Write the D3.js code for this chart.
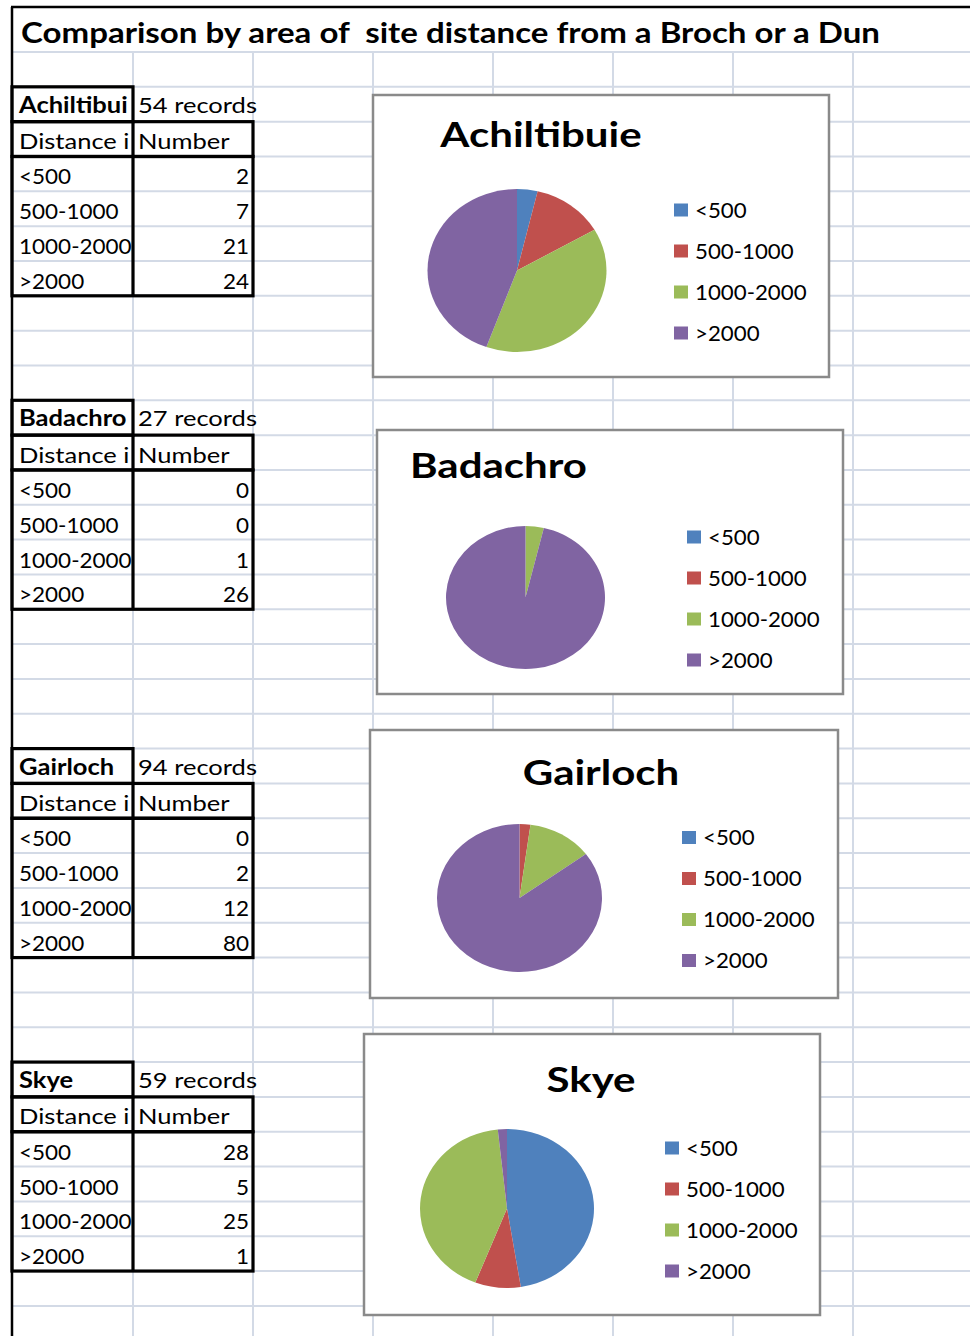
<!DOCTYPE html>
<html>
<head>
<meta charset="utf-8">
<script src="https://cdn.jsdelivr.net/npm/d3@7"></script>
<style>
  html, body { margin: 0; padding: 0; background: #ffffff; }
  svg { display: block; font-family: Lato, "Open Sans", sans-serif; }
  text { white-space: pre; }
</style>
</head>
<body>
<svg id="sheet" width="970" height="1336"></svg>
<script>
// ---- data ----------------------------------------------------------
const pageTitle = "Comparison by area of  site distance from a Broch or a Dun";
const areaNames = ["Achiltibuie", "Badachro", "Gairloch", "Skye"];
const tableNames = ["Achiltibui", "Badachro", "Gairloch", "Skye"];
const recordCounts = [54, 27, 94, 59];
const distanceBands = ["<500", "500-1000", "1000-2000", ">2000"];
const columnHeaders = ["Distance i", "Number"];
const achiltibuieCounts = [2, 7, 21, 24];
const badachroCounts = [0, 0, 1, 26];
const gairlochCounts = [0, 2, 12, 80];
const skyeCounts = [28, 5, 25, 1];
const areaCounts = [achiltibuieCounts, badachroCounts, gairlochCounts, skyeCounts];
const bandColors = ["#4F81BD", "#C0504D", "#9BBB59", "#8064A2"];

// ---- sheet layout --------------------------------------------------
const W = 970, H = 1336;
const sheetLeft = 12, sheetTop = 7;
const titleRowBottom = 52;
const rowH = 34.83;
const colW = 120, firstColRight = 133;
const tableFirstRow = [0, 9, 19, 28];

// chart objects placed over the grid
const chartLayout = [
  { box: [373, 95, 829, 377],  titleX: 541, titleY: 147, anchor: "middle", cx: 517,   cy: 270.5,  rx: 89.5, ry: 81.5, legX: 674, legY: 210 },
  { box: [377, 430, 843, 694], titleX: 410, titleY: 478, anchor: "start",  cx: 525.5, cy: 597.5,  rx: 79.5, ry: 71.5, legX: 687, legY: 537 },
  { box: [370, 730, 838, 998], titleX: 601, titleY: 785, anchor: "middle", cx: 519.5, cy: 898,    rx: 82.5, ry: 74,   legX: 682, legY: 837.5 },
  { box: [364, 1034, 820, 1315], titleX: 591, titleY: 1092, anchor: "middle", cx: 507, cy: 1208.5, rx: 87,  ry: 79.5, legX: 665, legY: 1148 }
];
const legendStep = 41;

// horizontal stretch applied to glyph runs
const wordSX = 1.16, numberSX = 1.07, legendSX = 1.06, chartTitleSX = 1.2;

// ---- helpers -------------------------------------------------------
const rowY = d3.scaleLinear().domain([-1, 0]).range([titleRowBottom, titleRowBottom + rowH]);
const colX = d3.scaleLinear().domain([0, 1]).range([firstColRight - colW, firstColRight]);
const color = d3.scaleOrdinal(distanceBands, bandColors);

function stretch(sel, k) {
  sel.each(function () {
    const w = this.getComputedTextLength();
    d3.select(this).attr("textLength", w * k).attr("lengthAdjust", "spacingAndGlyphs");
  });
}

const svg = d3.select("#sheet");
svg.append("rect").attr("width", W).attr("height", H).attr("fill", "#ffffff");

// ---- grid lines ----------------------------------------------------
const grid = svg.append("g").attr("stroke", "#d3dae6").attr("stroke-width", 2);
const rowIdx = d3.range(-1, 40).filter(k => rowY(k) <= H);
grid.selectAll("line.h").data(rowIdx).join("line")
  .attr("class", "h")
  .attr("x1", sheetLeft).attr("x2", W)
  .attr("y1", k => rowY(k)).attr("y2", k => rowY(k));
const colIdx = d3.range(1, 8);
grid.selectAll("line.v").data(colIdx).join("line")
  .attr("class", "v")
  .attr("x1", i => colX(i)).attr("x2", i => colX(i))
  .attr("y1", titleRowBottom).attr("y2", H);

// ---- tables --------------------------------------------------------
svg.append("clipPath").attr("id", "firstCol")
  .append("rect").attr("x", 0).attr("y", 0).attr("width", firstColRight - 1).attr("height", H);

const tables = svg.append("g").attr("font-size", 21).attr("fill", "#000");
areaNames.forEach((area, i) => {
  const r0 = tableFirstRow[i];
  const g = tables.append("g");
  const base = k => rowY(k) + 27;
  const left = sheetLeft + 7;
  const numRight = colX(2) - 4;
  const col1Left = colX(1) + 5;

  const c0 = g.append("g").attr("clip-path", "url(#firstCol)");
  c0.append("text").attr("class", "word").attr("x", left).attr("y", rowY(r0) + 26)
    .attr("font-weight", 700).text(tableNames[i]);
  g.append("text").attr("class", "word").attr("x", col1Left).attr("y", rowY(r0) + 26)
    .text(recordCounts[i] + " records");
  c0.append("text").attr("class", "word").attr("x", left).attr("y", base(r0 + 1) + 0.5).text(columnHeaders[0]);
  g.append("text").attr("class", "word").attr("x", col1Left).attr("y", base(r0 + 1) + 0.5).text(columnHeaders[1]);
  c0.selectAll("text.band").data(distanceBands).join("text")
    .attr("class", "band")
    .attr("x", left).attr("y", (d, j) => base(r0 + 2 + j) + 1).text(d => d);
  g.selectAll("text.num").data(areaCounts[i]).join("text")
    .attr("class", "num").attr("text-anchor", "end")
    .attr("x", numRight).attr("y", (d, j) => base(r0 + 2 + j) + 1).text(d => d);

  g.selectAll("text.word").attr("font-size", 22);
  stretch(g.selectAll("text.word"), wordSX);
  stretch(g.selectAll("text.band, text.num"), numberSX);

  // thick cell borders
  const b = g.append("g").attr("fill", "none").attr("stroke", "#000").attr("stroke-width", 3.2);
  b.append("rect").attr("x", sheetLeft).attr("y", rowY(r0))
    .attr("width", colX(1) - sheetLeft).attr("height", rowY(r0 + 1) - rowY(r0));
  b.append("rect").attr("x", sheetLeft).attr("y", rowY(r0 + 1))
    .attr("width", colX(2) - sheetLeft).attr("height", rowY(r0 + 2) - rowY(r0 + 1));
  b.append("rect").attr("x", sheetLeft).attr("y", rowY(r0 + 2))
    .attr("width", colX(2) - sheetLeft).attr("height", rowY(r0 + 6) - rowY(r0 + 2));
  b.append("line").attr("x1", colX(1)).attr("x2", colX(1))
    .attr("y1", rowY(r0 + 1)).attr("y2", rowY(r0 + 6));
});

// ---- pie charts ----------------------------------------------------
const pie = d3.pie().sort(null).value(d => d);

areaNames.forEach((area, i) => {
  const L = chartLayout[i];
  const g = svg.append("g");
  g.append("rect")
    .attr("x", L.box[0]).attr("y", L.box[1])
    .attr("width", L.box[2] - L.box[0]).attr("height", L.box[3] - L.box[1])
    .attr("fill", "#ffffff").attr("stroke", "#8a8a8a").attr("stroke-width", 2.5);

  const t = g.append("text")
    .attr("x", L.titleX).attr("y", L.titleY)
    .attr("text-anchor", L.anchor)
    .attr("font-size", 35).attr("font-weight", 700).attr("fill", "#000")
    .text(area);
  stretch(t, chartTitleSX);

  const arc = d3.arc().innerRadius(0).outerRadius(L.rx);
  g.append("g")
    .attr("transform", `translate(${L.cx},${L.cy}) scale(1,${L.ry / L.rx})`)
    .selectAll("path")
    .data(pie(areaCounts[i]).map((p, j) => Object.assign(p, { band: distanceBands[j] })))
    .join("path")
    .attr("d", arc)
    .attr("fill", d => color(d.band));

  const leg = g.append("g");
  const item = leg.selectAll("g").data(distanceBands).join("g")
    .attr("transform", (d, j) => `translate(${L.legX},${L.legY + j * legendStep})`);
  item.append("rect").attr("x", 0).attr("y", -6.5).attr("width", 14).attr("height", 13)
    .attr("fill", d => color(d));
  const lt = item.append("text").attr("x", 21).attr("y", 7.5)
    .attr("font-size", 21).attr("fill", "#000").text(d => d);
  stretch(lt, legendSX);
});

// ---- page title and sheet edges ------------------------------------
svg.append("text")
  .attr("x", 21).attr("y", 43)
  .attr("font-size", 28).attr("font-weight", 700).attr("fill", "#000")
  .attr("textLength", 859).attr("lengthAdjust", "spacingAndGlyphs")
  .text(pageTitle);

svg.append("line").attr("x1", sheetLeft - 1).attr("x2", W)
  .attr("y1", sheetTop).attr("y2", sheetTop)
  .attr("stroke", "#000").attr("stroke-width", 2.5);
svg.append("line").attr("x1", sheetLeft).attr("x2", sheetLeft)
  .attr("y1", sheetTop).attr("y2", H)
  .attr("stroke", "#000").attr("stroke-width", 2.5);
</script>
</body>
</html>
